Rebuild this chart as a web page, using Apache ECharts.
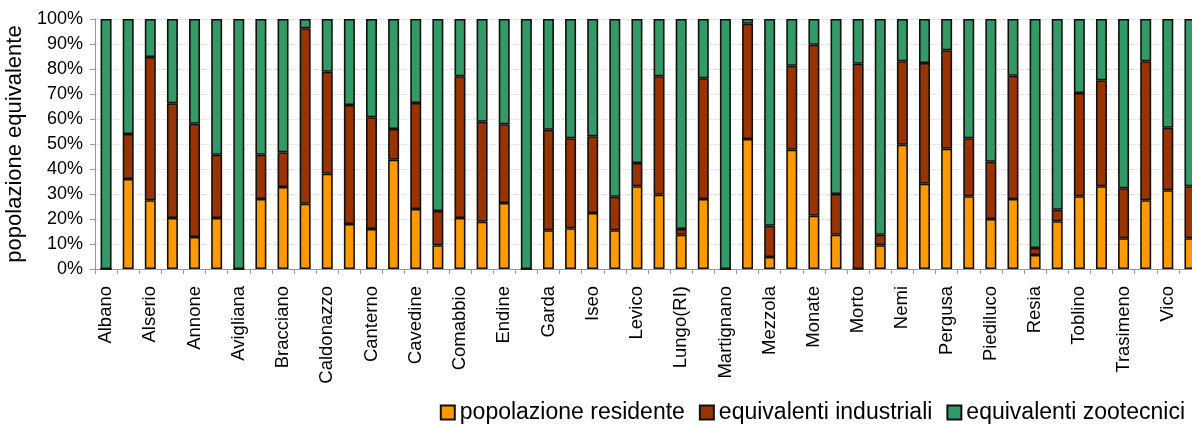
<!DOCTYPE html>
<html>
<head>
<meta charset="utf-8">
<script src="https://cdn.jsdelivr.net/npm/echarts@6/dist/echarts.min.js"></script>
<style>
html,body{margin:0;padding:0;background:#fff;}
#chart{width:1192px;height:425px;}
</style>
</head>
<body>
<div id="chart"></div>
<script>
const categories = ['Albano','Alleghe','Alserio','Ampollino','Annone','Arvo','Avigliana','Bolsena','Bracciano','Caccamo',
  'Caldonazzo','Candia','Canterno','Cavazzo','Cavedine','Ceresio','Comabbio','Como','Endine','Fimon',
  'Garda','Idro','Iseo','Lesina','Levico','Lugano','Lungo(RI)','Maggiore','Martignano','Mergozzo',
  'Mezzola','Molveno','Monate','Montorfano','Morto','Mulargia','Nemi','Orta','Pergusa','Pertusillo',
  'Piediluco','Pusiano','Resia','Segrino','Toblino','Tovel','Trasimeno','Varese','Vico','Viverone'];

const popolazioneResidente = [0,36,27.5,20.4,12.8,20.4,0,28,32.8,26.1,
  38.1,18,16,43.7,24,9.5,20.4,18.9,26.4,0,
  15.5,16.3,22.4,15.5,33.1,29.7,13.7,28,0,52,
  4.8,47.7,21.3,13.7,0,9.5,49.7,34.1,48.1,29.1,
  20,28,5.6,19.1,29.1,33.1,12.3,27.5,31.5,12.3];

const equivalentiIndustriali = [0,18,57.3,45.9,45.3,25.3,0,17.7,13.9,70.2,
  40.8,47.6,44.7,12.3,42.4,13.7,56.7,40,31.5,0,
  40.2,36,30.7,13.4,9.3,47.4,2.3,48.3,0,46.1,
  12.5,33.6,68.4,16.3,82.1,4.2,33.4,48.3,39.4,23.2,
  22.9,49.3,2.8,4.6,41.3,42.4,20,55.6,25,20.8];

const equivalentiZootecnici = [100,46,15.2,33.7,41.9,54.3,100,54.3,53.3,3.7,
  21.1,34.4,39.3,44,33.6,76.8,22.9,41.1,42.1,100,
  44.3,47.7,46.9,71.1,57.6,22.9,84,23.7,100,1.9,
  82.7,18.7,10.3,70,17.9,86.3,16.9,17.6,12.5,47.7,
  57.1,22.7,91.6,76.3,29.6,24.5,67.7,16.9,43.5,66.9];

const yTicks = [0,10,20,30,40,50,60,70,80,90,100];

const seriesNames = ['popolazione residente','equivalenti industriali','equivalenti zootecnici'];
const seriesColors = ['#FF9900','#993300','#339966'];
const seriesData = [popolazioneResidente, equivalentiIndustriali, equivalentiZootecnici];

const chart = echarts.init(document.getElementById('chart'), null, {renderer:'canvas'});
const font = 'Liberation Sans, Arial, sans-serif';

chart.setOption({
  animation:false,
  textStyle:{fontFamily:font},
  grid:{left:95,right:-9,top:19,bottom:156,containLabel:false,outerBoundsMode:'none'},
  legend:{
    data:seriesNames,
    right:2,bottom:-4,
    icon:'rect',
    itemWidth:14,itemHeight:14,itemGap:14,
    textStyle:{fontSize:23,color:'#000',fontFamily:font}
  },
  xAxis:{
    type:'category',
    data:categories,
    boundaryGap:true,
    axisLine:{lineStyle:{color:'#9a9a9a',width:1}},
    axisTick:{show:true,interval:0,length:5,lineStyle:{color:'#9a9a9a'}},
    axisLabel:{interval:1,rotate:90,fontSize:18.5,color:'#000',margin:17,fontFamily:font}
  },
  yAxis:{
    type:'value',
    min:yTicks[0],max:yTicks[yTicks.length-1],interval:10,
    name:'popolazione equivalente',
    nameLocation:'middle',nameRotate:90,nameGap:66,
    nameTextStyle:{fontSize:22,color:'#000',fontFamily:font},
    axisLine:{show:true,lineStyle:{color:'#9a9a9a',width:1}},
    axisTick:{show:true,length:5,lineStyle:{color:'#9a9a9a'}},
    axisLabel:{formatter:'{value}%',fontSize:18,color:'#000',margin:12,fontFamily:font},
    splitLine:{show:true,lineStyle:{color:'#dcdcdc',type:'dotted',width:1}}
  },
  series:seriesNames.map((n,i)=>({
    name:n,type:'bar',stack:'tot',
    data:seriesData[i],
    barWidth:11,
    itemStyle:{color:seriesColors[i],borderColor:'#111',borderWidth:1.6}
  }))
});
</script>
</body>
</html>
